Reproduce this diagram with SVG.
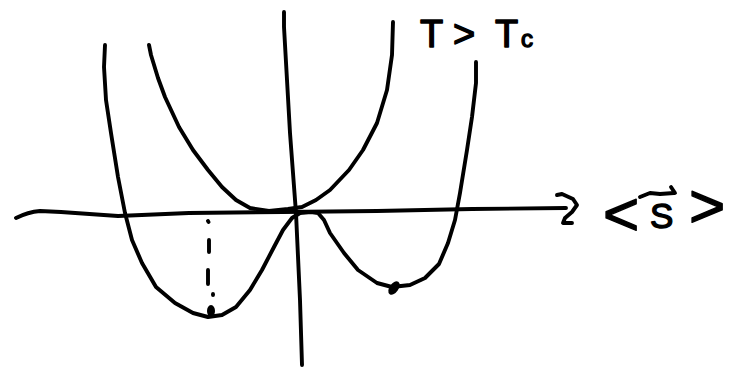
<svg xmlns="http://www.w3.org/2000/svg" width="736" height="370" viewBox="0 0 736 370">
<style>
.s{fill:none;stroke:#000;stroke-width:3.9;stroke-linecap:round;stroke-linejoin:round}
.t{font-family:"Liberation Sans",Arial,sans-serif;fill:#000;stroke:#000;stroke-width:1.4;stroke-linejoin:round}
</style>
<rect width="736" height="370" fill="#fff"/>
<g id="axes">
<path class="s" d="M16,218 Q28,212 40,211 L61,212 L118,216 L189,213 L283,212 L377,211 L472,209 L566,208"/>
<path class="s" d="M557,195 L562,194 L573,199 L577,205 L572,212 L565,218 L563,223 L572,223"/>
<path class="s" d="M284,12 L284,27 L290,133 L296,213 L300,300 L302,365"/>
</g>
<g id="curve-high-T">
<path class="s" d="M149,45 L151,55 L158,78 L165,97 L179,127 L193,150 L208,170 L222,187 L236,200 L250,208 L269,211 L288,209 L302,207 L316,200 L330,190 L349,170 L363,150 L377,123 L387,90 L392,55 L393,22"/>
</g>
<g id="curve-low-T">
<path class="s" d="M105,45 L104,67 L106,100 L111,133 L118,177 L125,213 L132,240 L142,263 L156,287 L175,303 L193,313 L208,317 L222,315 L236,307 L250,290 L262,270 L274,247 L283,230 L292,218 L300,213 L311,212 L318,213 L324,220 L330,233 L344,253 L358,270 L377,283 L392,287 L410,285 L425,278 L439,264 L448,243 L455,220 L460,193 L467,150 L472,117 L476,83 L476,62"/>
</g>
<g id="minimum-marks">
<path class="s" d="M208,221 L208.5,222 M209,240 L209,252 M208,270 L208,284 M213,294 L213,295"/>
<ellipse cx="211" cy="311" rx="3" ry="5" fill="#000" stroke="#000" stroke-width="2"/>
<ellipse cx="394" cy="288" rx="3.5" ry="6.5" transform="rotate(35 394 288)" fill="#000" stroke="#000" stroke-width="2"/>
</g>
<g id="label-temperature">
<text class="t" y="47" font-size="38"><tspan x="420">T</tspan><tspan x="453">&gt;</tspan><tspan x="495">T</tspan><tspan x="521" font-size="24">c</tspan></text>
</g>
<g id="label-order-parameter">
<text class="t" x="603" y="235" font-size="62">&lt;</text>
<text class="t" x="650" y="228" font-size="35">S</text>
<path class="s" d="M640,197 L650,193 L660,194 L674,193 M671,187 L675,193"/>
<text class="t" x="689" y="227" font-size="62">&gt;</text>
</g>
</svg>
